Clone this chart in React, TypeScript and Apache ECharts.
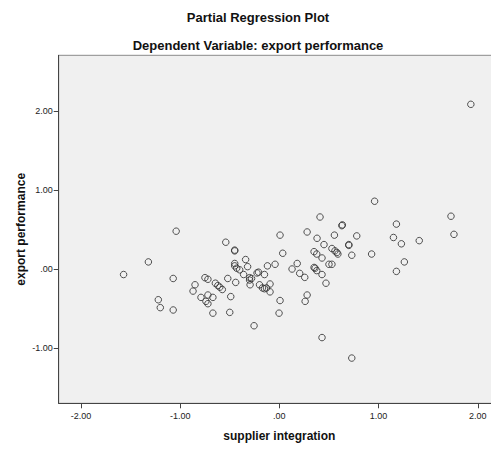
import React, { useEffect, useRef } from "react";
import * as echarts from "echarts";

const titleText = "Partial Regression Plot";
const subtitleText = "Dependent Variable: export performance";
const xAxisName = "supplier integration";
const yAxisName = "export performance";
const tickValues = [-2, -1, 0, 1, 2];

// supplier integration (residual)
const xValues = [
  -1.57, -1.32, -1.04, -1.07, -1.22, -1.2, -1.07, -0.85, -0.87, -0.79,
  -0.75, -0.72, -0.74, -0.72, -0.72, -0.67, -0.67, -0.645, -0.62, -0.6,
  -0.575, -0.54, -0.52, -0.49, -0.5, -0.45, -0.45, -0.45, -0.45, -0.43,
  -0.4, -0.44, -0.36, -0.34, -0.32, -0.3, -0.3, -0.28, -0.295, -0.255,
  -0.225, -0.21, -0.2, -0.17, -0.15, -0.13, -0.094, -0.094, -0.15, -0.12,
  -0.043, 0.007, 0.034, 0.007, -0.003, 0.128, 0.18, 0.205, 0.256, 0.28,
  0.28, 0.26, 0.35, 0.35, 0.36, 0.377, 0.38, 0.377, 0.41, 0.43,
  0.43, 0.43, 0.45, 0.47, 0.5, 0.53, 0.53, 0.555, 0.56, 0.58,
  0.59, 0.63, 0.635, 0.7, 0.7, 0.73, 0.73, 0.78, 0.93, 0.96,
  1.15, 1.18, 1.18, 1.23, 1.26, 1.41, 1.73, 1.76, 1.93,
];

// export performance (residual)
const yValues = [
  -0.07, 0.09, 0.48, -0.12, -0.39, -0.49, -0.52, -0.2, -0.28, -0.36,
  -0.11, -0.13, -0.41, -0.44, -0.33, -0.36, -0.56, -0.18, -0.21, -0.23,
  -0.26, 0.34, -0.12, -0.35, -0.55, 0.23, 0.24, 0.07, 0.04, 0.01,
  -0.01, -0.17, -0.07, 0.12, 0.03, -0.11, -0.14, -0.12, -0.2, -0.72,
  -0.05, -0.04, -0.2, -0.24, -0.25, -0.24, -0.29, -0.19, -0.07, 0.04,
  0.06, 0.43, 0.2, -0.4, -0.56, 0.0, 0.07, -0.055, -0.106, 0.47,
  -0.33, -0.41, 0.22, 0.02, 0.01, 0.19, 0.39, -0.02, 0.66, 0.14,
  -0.07, -0.87, 0.31, -0.18, 0.06, 0.26, 0.06, 0.43, 0.23, 0.21,
  0.19, 0.55, 0.56, 0.3, 0.31, 0.175, -1.13, 0.42, 0.19, 0.86,
  0.4, 0.57, -0.03, 0.32, 0.09, 0.36, 0.67, 0.44, 2.09,
];

const fmt = (v: number) => (Math.abs(v) < 1e-9 ? ".00" : v.toFixed(2));

export default function App() {
  const ref = useRef<HTMLDivElement>(null);
  useEffect(() => {
    if (!ref.current) return;
    const chart = echarts.init(ref.current, undefined, { renderer: "svg" });
    const font = "'Liberation Sans', Arial, sans-serif";
    const data = xValues.map((x, i) => [x, yValues[i]]);
    chart.setOption({
      animation: false,
      backgroundColor: "#ffffff",
      textStyle: { fontFamily: font },
      title: [
        {
          text: titleText,
          left: 253,
          top: 6,
          textAlign: "center",
          textStyle: { fontFamily: font, fontSize: 13, fontWeight: "bold", color: "#111" },
        },
        {
          text: subtitleText,
          left: 253,
          top: 34,
          textAlign: "center",
          textStyle: { fontFamily: font, fontSize: 13, fontWeight: "bold", color: "#111" },
        },
      ],
      grid: {
        left: 58.7,
        top: 55.3,
        right: 10,
        bottom: 452 - 403.3,
        show: true,
        backgroundColor: "#f0f0f0",
        borderColor: "#8a8a8a",
        borderWidth: 1,
      },
      xAxis: {
        type: "value",
        min: -2.224,
        max: 2.224,
        name: xAxisName,
        nameLocation: "middle",
        nameGap: 27,
        nameMoveOverlap: false,
        nameTextStyle: { fontFamily: font, fontSize: 12, fontWeight: "bold", color: "#111" },
        axisLine: { show: true, onZero: false, lineStyle: { color: "#444", width: 1 } },
        axisTick: { show: true, length: 5, customValues: tickValues, lineStyle: { color: "#444" } },
        axisLabel: {
          customValues: tickValues,
          formatter: fmt,
          fontSize: 9,
          color: "#222",
          margin: 8,
          fontFamily: font,
        },
        splitLine: { show: false },
      },
      yAxis: {
        type: "value",
        min: -1.704,
        max: 2.712,
        name: yAxisName,
        nameLocation: "middle",
        nameGap: 32,
        nameMoveOverlap: false,
        nameRotate: 90,
        nameTextStyle: { fontFamily: font, fontSize: 12, fontWeight: "bold", color: "#111" },
        axisLine: { show: true, onZero: false, lineStyle: { color: "#444", width: 1 } },
        axisTick: { show: true, length: 5, customValues: tickValues, lineStyle: { color: "#444" } },
        axisLabel: {
          customValues: tickValues,
          formatter: fmt,
          fontSize: 9,
          color: "#222",
          margin: 6,
          fontFamily: font,
        },
        splitLine: { show: false },
      },
      series: [
        {
          type: "scatter",
          data,
          symbol: "circle",
          symbolSize: 6.5,
          itemStyle: {
            color: "rgba(0,0,0,0)",
            borderColor: "#333",
            borderWidth: 1,
            opacity: 0.85,
          },
        },
      ],
    });
    return () => chart.dispose();
  }, []);
  return (
    <div
      style={{
        position: "fixed",
        left: 0,
        top: 0,
        width: 491,
        height: 452,
        overflow: "hidden",
        background: "#fff",
      }}
    >
      <div ref={ref} style={{ width: 510, height: 452 }} />
    </div>
  );
}
